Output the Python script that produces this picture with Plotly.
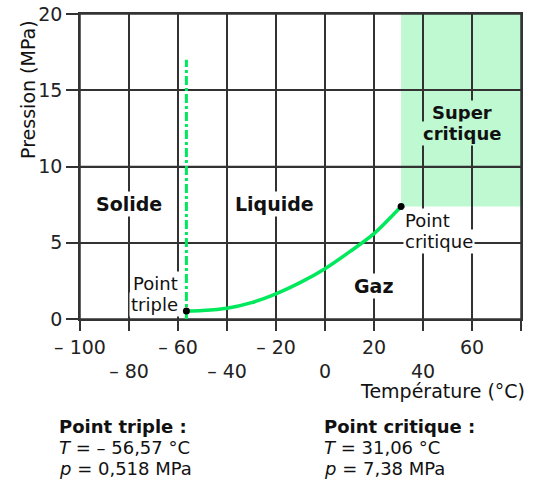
import plotly.graph_objects as go

# ---- data ----
curve_T = [-56.57, -50, -40, -30, -20, -10, 0, 10, 20, 31.06]
curve_p = [0.518, 0.55, 0.70, 1.07, 1.65, 2.4, 3.3, 4.4, 5.6, 7.38]
triple_T, triple_p = -56.57, 0.518
crit_T, crit_p = 31.06, 7.38
fusion_p = [0, 17]

x_range = [-100, 80]
y_range = [0, 20]
x_ticks = [-100, -80, -60, -40, -20, 0, 20, 40, 60, 80]
x_tick_text = ["– 100", "<br>– 80", "– 60", "<br>– 40", "– 20", "<br>0", "20", "<br>40", "60", "<br>80"]
y_ticks = [0, 5, 10, 15, 20]

GREEN = "#00e85c"
LIGHT = "#bff9d2"
GRID = "#333333"
FONT = "Verdana, DejaVu Sans, sans-serif"
FS = 19
FS2 = 18

fig = go.Figure()

fig.add_shape(type="rect", x0=crit_T, x1=x_range[1], y0=crit_p, y1=y_range[1],
              xref="x", yref="y", fillcolor=LIGHT, line=dict(width=0), layer="below")

# grid drawn from the tick arrays
gx, gy = [], []
for t in x_ticks:
    gx += [t, t, None]
    gy += [y_range[0], y_range[1], None]
for p in y_ticks:
    gx += [x_range[0], x_range[1], None]
    gy += [p, p, None]
fig.add_trace(go.Scatter(x=gx, y=gy, mode="lines", line=dict(color=GRID, width=1.5),
                         connectgaps=False, hoverinfo="skip", showlegend=False, cliponaxis=False))

fig.add_trace(go.Scatter(x=[triple_T, triple_T], y=fusion_p, mode="lines",
                         line=dict(color=GREEN, width=3, dash="dashdot"),
                         hoverinfo="skip", showlegend=False))
fig.add_trace(go.Scatter(x=curve_T, y=curve_p, mode="lines",
                         line=dict(color=GREEN, width=3.5, shape="spline", smoothing=0.8),
                         hoverinfo="skip", showlegend=False))
fig.add_trace(go.Scatter(x=[triple_T, crit_T], y=[triple_p, crit_p], mode="markers",
                         marker=dict(color="black", size=7),
                         hoverinfo="skip", showlegend=False))

fig.update_layout(
    width=533, height=486,
    margin=dict(l=80, r=12, t=14, b=167),
    paper_bgcolor="white", plot_bgcolor="white",
    xaxis=dict(range=x_range, tickmode="array", tickvals=x_ticks, ticktext=x_tick_text,
               showgrid=True, gridcolor=GRID, gridwidth=1.5, zeroline=False,
               ticks="outside", ticklen=10, tickcolor=GRID, tickwidth=1.5,
               showline=True, linecolor=GRID, linewidth=1.5, mirror=True, automargin=False,
               tickfont=dict(family=FONT, size=FS, color="#222")),
    yaxis=dict(range=y_range, tickmode="array", tickvals=y_ticks,
               showgrid=True, gridcolor=GRID, gridwidth=1.5, zeroline=False,
               ticks="outside", ticklen=12, tickcolor=GRID, tickwidth=1.5,
               showline=True, linecolor=GRID, linewidth=1.5, mirror=True, automargin=False,
               tickfont=dict(family=FONT, size=FS, color="#222")),
    showlegend=False,
)

def ann(text, x, y, bold=False, bg="white", size=FS, **kw):
    t = f"<b>{text}</b>" if bold else text
    fig.add_annotation(text=t, x=x, y=y, xref="x", yref="y", showarrow=False,
                       bgcolor=bg, borderpad=1,
                       font=dict(family=FONT, size=size, color="#111"), **kw)

ann("Solide", -80, 7.55, bold=True)
ann("Liquide", -20.8, 7.55, bold=True)
ann("Gaz", 19.6, 2.16, bold=True)
ann("Super", 55.9, 13.55, bold=True, bg=LIGHT, size=FS2)
ann("critique", 55.9, 12.17, bold=True, bg=LIGHT, size=FS2)
ann("Point", triple_T - 2.6, 2.3, xanchor="right", size=FS2)
ann("triple", triple_T - 2.6, 0.92, xanchor="right", size=FS2)
ann("Point", crit_T + 0.7, 6.45, xanchor="left", size=FS2)
ann("critique", crit_T + 0.7, 5.05, xanchor="left", size=FS2)

def pann(text, x, y, size=FS, **kw):
    fig.add_annotation(text=text, x=x, y=y, xref="paper", yref="paper", showarrow=False,
                       yanchor="middle", font=dict(family=FONT, size=size, color="#111"), **kw)

pann("Pression (MPa)", -0.118, 0.751, textangle=-90, xanchor="center")
pann("Température (°C)", 1.014, -0.236, xanchor="right")

LINE = 21 / 305
y0 = -0.354
pann("<b>Point triple :</b>", -0.052, y0, xanchor="left", size=FS2)
pann(f"<i>T</i> = – {str(abs(triple_T)).replace('.', ',')} °C", -0.052, y0 - LINE, xanchor="left", size=FS2)
pann(f"<i>p</i> = {str(triple_p).replace('.', ',')} MPa", -0.052, y0 - 2 * LINE, xanchor="left", size=FS2)
pann("<b>Point critique :</b>", 0.549, y0, xanchor="left", size=FS2)
pann(f"<i>T</i> = {str(crit_T).replace('.', ',')} °C", 0.549, y0 - LINE, xanchor="left", size=FS2)
pann(f"<i>p</i> = {str(crit_p).replace('.', ',')} MPa", 0.549, y0 - 2 * LINE, xanchor="left", size=FS2)

fig.write_html("out.html", config={"displayModeBar": False},
               post_script="document.body.style.margin='0';document.body.style.overflow='hidden';")
